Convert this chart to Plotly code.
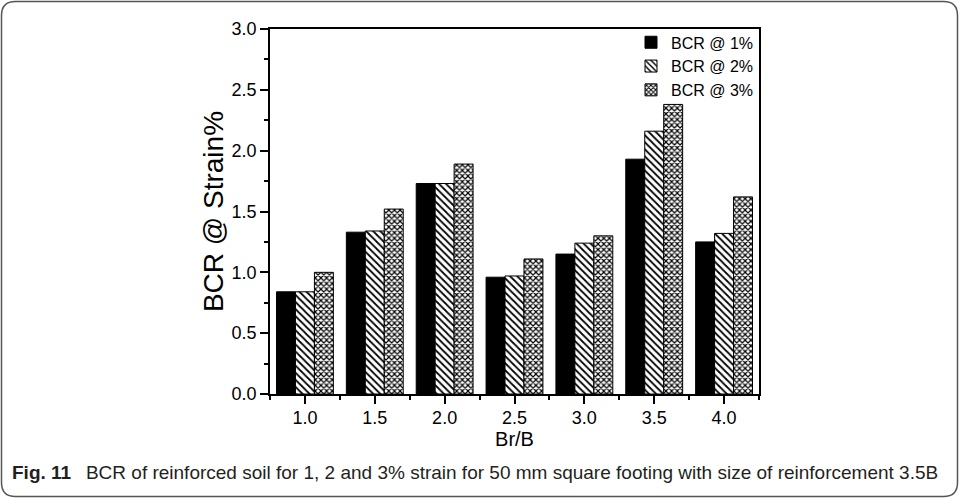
import plotly.graph_objects as go

# ---- data ----
br_b = [1.0, 1.5, 2.0, 2.5, 3.0, 3.5, 4.0]
bcr_1 = [0.84, 1.33, 1.73, 0.96, 1.15, 1.93, 1.25]
bcr_2 = [0.84, 1.34, 1.73, 0.97, 1.24, 2.16, 1.32]
bcr_3 = [1.00, 1.52, 1.89, 1.11, 1.30, 2.38, 1.62]
series_names = ["BCR @ 1%", "BCR @ 2%", "BCR @ 3%"]
y_ticks = [0.0, 0.5, 1.0, 1.5, 2.0, 2.5, 3.0]
x_ticks = [1.0, 1.5, 2.0, 2.5, 3.0, 3.5, 4.0]

W, H = 959, 500
ML, MR, MT, MB = 270, 200, 29, 106
PW, PH = W - ML - MR, H - MT - MB

def px(x):
    return (x - ML) / PW

def py(y):
    return (H - MB - y) / PH

FONT = "Liberation Sans, Arial, Helvetica, sans-serif"

fig = go.Figure()
fig.add_trace(go.Bar(
    x=br_b, y=bcr_1, name=series_names[0],
    marker=dict(color="black", line=dict(color="black", width=1)),
))
fig.add_trace(go.Bar(
    x=br_b, y=bcr_2, name=series_names[1],
    marker=dict(color="white", line=dict(color="black", width=1),
                pattern=dict(shape="\\", fgcolor="black", bgcolor="white",
                             size=5, solidity=0.35, fillmode="replace")),
))
fig.add_trace(go.Bar(
    x=br_b, y=bcr_3, name=series_names[2],
    marker=dict(color="white", line=dict(color="black", width=1),
                pattern=dict(shape="x", fgcolor="black", bgcolor="white",
                             size=4, solidity=0.5, fillmode="replace")),
))

# frame
x0, x1, y0, y1, r = 1.5, 957.5, 1.5, 496.5, 14
path = (f"M{px(x0+r)},{py(y0)} L{px(x1-r)},{py(y0)} Q{px(x1)},{py(y0)} {px(x1)},{py(y0+r)} "
        f"L{px(x1)},{py(y1-r)} Q{px(x1)},{py(y1)} {px(x1-r)},{py(y1)} "
        f"L{px(x0+r)},{py(y1)} Q{px(x0)},{py(y1)} {px(x0)},{py(y1-r)} "
        f"L{px(x0)},{py(y0+r)} Q{px(x0)},{py(y0)} {px(x0+r)},{py(y0)} Z")

fig.update_layout(
    width=W, height=H,
    margin=dict(l=ML, r=MR, t=MT, b=MB),
    paper_bgcolor="white", plot_bgcolor="white",
    font=dict(family=FONT, color="black"),
    barmode="group", bargap=0.186, bargroupgap=0,
    showlegend=True,
    legend=dict(x=1.0, xanchor="right", y=1.01, yanchor="top",
                bgcolor="rgba(0,0,0,0)", font=dict(size=16, family=FONT),
                tracegroupgap=0, itemwidth=30),
    xaxis=dict(
        range=[0.75, 4.25], tickvals=x_ticks, ticktext=[f"{v:.1f}" for v in x_ticks],
        ticks="outside", ticklen=8, tickwidth=1.5, tickcolor="black",
        minor=dict(tickvals=[0.75, 1.25, 1.75, 2.25, 2.75, 3.25, 3.75, 4.25],
                   ticks="outside", ticklen=4, tickwidth=1.5, tickcolor="black"),
        showline=True, linecolor="black", linewidth=1.5, mirror=True,
        showgrid=False, zeroline=False,
        tickfont=dict(size=18), ticklabelstandoff=-1,
        title=dict(text="Br/B", font=dict(size=20), standoff=2),
    ),
    yaxis=dict(
        range=[0, 3], tickvals=y_ticks, ticktext=[f"{v:.1f}" for v in y_ticks],
        ticks="outside", ticklen=8, tickwidth=1.5, tickcolor="black",
        minor=dict(dtick=0.25, tick0=0, ticks="outside", ticklen=4, tickwidth=1.5, tickcolor="black"),
        showline=True, linecolor="black", linewidth=1.5, mirror=True,
        showgrid=False, zeroline=False,
        tickfont=dict(size=18), ticklabelstandoff=0,
        title=dict(text="BCR @ Strain%", font=dict(size=28), standoff=0),
    ),
    yaxis2=dict(
        overlaying="y", side="right", anchor="x", range=[0, 3],
        tickmode="linear", tick0=0, dtick=0.3,
        ticks="inside", ticklen=3, tickwidth=1, tickcolor="black",
        showticklabels=False, showgrid=False, zeroline=False, showline=False,
    ),
    shapes=[dict(type="path", xref="paper", yref="paper", path=path,
                 line=dict(color="#555555", width=1.5), fillcolor="rgba(0,0,0,0)", layer="below")],
    annotations=[dict(
        xref="paper", yref="paper", x=px(10), y=py(473), xanchor="left", yanchor="middle",
        showarrow=False, align="left",
        text="<b>Fig. 11</b>\u2002 BCR of reinforced soil for 1, 2 and 3% strain for 50 mm square footing with size of reinforcement 3.5B",
        font=dict(family="Liberation Sans, Arial, sans-serif", size=19, color="#231f20"),
    )],
)

fig.write_html("out.html", config={"displayModeBar": False},
               post_script="document.body.style.margin='0';document.body.style.padding='0';")
